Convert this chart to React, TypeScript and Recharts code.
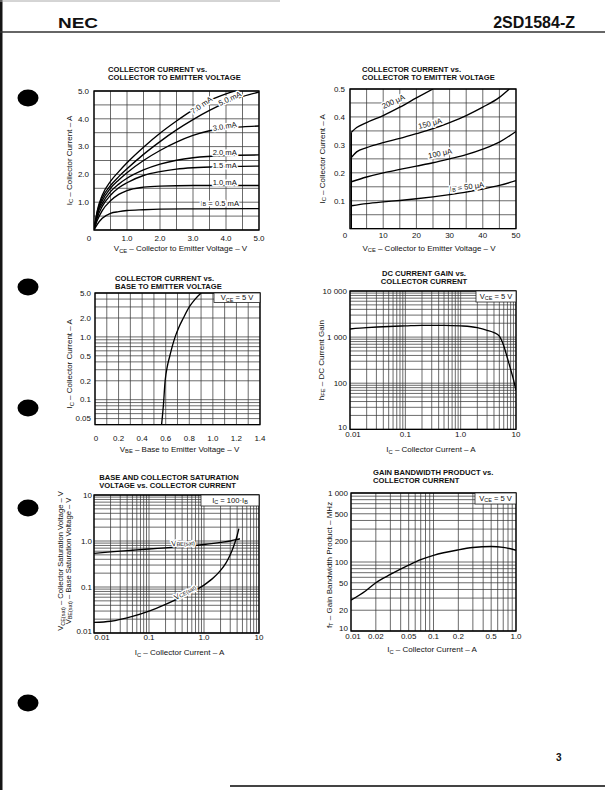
import React from 'react';
import { LineChart, Line, XAxis, YAxis, CartesianGrid, ReferenceDot, ReferenceArea } from 'recharts';

type Pt = [number, number];
type Tick = [number, string];

const FONT = '"Liberation Sans", Arial, Helvetica, sans-serif';
const INK = '#111';

// ---------------- Chart 1: IC vs VCE (0-5 V)
const c1XGrid = [0, 0.5, 1, 1.5, 2, 2.5, 3, 3.5, 4, 4.5, 5];
const c1YGrid = [0, 0.5, 1, 1.5, 2, 2.5, 3, 3.5, 4, 4.5, 5];
const c1XTicks: Tick[] = [[0, '0'], [1, '1.0'], [2, '2.0'], [3, '3.0'], [4, '4.0'], [5, '5.0']];
const c1YTicks: Tick[] = [[1, '1.0'], [2, '2.0'], [3, '3.0'], [4, '4.0'], [5, '5.0']];
const c1Ib0_5: Pt[] = [[0, 0], [0.1, 0.2], [0.25, 0.42], [0.5, 0.6], [0.75, 0.66], [1, 0.7], [1.5, 0.73], [2, 0.75], [3, 0.76], [5, 0.77]];
const c1Ib1_0: Pt[] = [[0, 0], [0.1, 0.35], [0.25, 0.7], [0.5, 1.05], [0.75, 1.28], [1, 1.42], [1.5, 1.54], [2, 1.58], [3, 1.6], [5, 1.6]];
const c1Ib1_5: Pt[] = [[0, 0], [0.1, 0.45], [0.25, 0.85], [0.5, 1.25], [0.75, 1.52], [1, 1.7], [1.5, 1.96], [2, 2.1], [2.5, 2.19], [3, 2.24], [4, 2.28], [5, 2.3]];
const c1Ib2_0: Pt[] = [[0, 0], [0.1, 0.55], [0.25, 0.95], [0.5, 1.38], [0.75, 1.65], [1, 1.86], [1.5, 2.16], [2, 2.37], [2.5, 2.51], [3, 2.6], [4, 2.68], [5, 2.7]];
const c1Ib3_0: Pt[] = [[0, 0], [0.1, 0.6], [0.25, 1.05], [0.5, 1.5], [0.75, 1.8], [1, 2.06], [1.5, 2.5], [2, 2.86], [2.5, 3.16], [3, 3.4], [3.5, 3.57], [4, 3.66], [4.5, 3.71], [5, 3.74]];
const c1Ib5_0: Pt[] = [[0, 0], [0.1, 0.65], [0.25, 1.15], [0.5, 1.6], [0.75, 1.92], [1, 2.2], [1.5, 2.72], [2, 3.18], [2.5, 3.6], [3, 3.97], [3.5, 4.3], [4, 4.58], [4.5, 4.8], [5, 4.96]];
const c1Ib7_0: Pt[] = [[0, 0], [0.1, 0.7], [0.25, 1.25], [0.5, 1.75], [0.75, 2.1], [1, 2.42], [1.5, 2.98], [2, 3.48], [2.5, 3.92], [3, 4.32], [3.5, 4.66], [4, 4.9], [4.26, 5.0]];

// ---------------- Chart 2: IC vs VCE (0-50 V)
const c2XGrid = [0, 5, 10, 15, 20, 25, 30, 35, 40, 45, 50];
const c2YGrid = [0, 0.05, 0.1, 0.15, 0.2, 0.25, 0.3, 0.35, 0.4, 0.45, 0.5];
const c2XTicks: Tick[] = [[0, '0'], [10, '10'], [20, '20'], [30, '30'], [40, '40'], [50, '50']];
const c2YTicks: Tick[] = [[0.1, '0.1'], [0.2, '0.2'], [0.3, '0.3'], [0.4, '0.4'], [0.5, '0.5']];
const c2Rise: Pt[] = [[0.4, 0], [0.4, 0.345]];
const c2Ib50: Pt[] = [[0.4, 0.082], [5, 0.09], [10, 0.096], [15, 0.101], [20, 0.107], [25, 0.114], [30, 0.122], [35, 0.131], [40, 0.142], [45, 0.155], [50, 0.172]];
const c2Ib100: Pt[] = [[0.4, 0.168], [5, 0.185], [10, 0.2], [15, 0.212], [20, 0.224], [25, 0.236], [30, 0.25], [35, 0.265], [40, 0.285], [45, 0.31], [50, 0.348]];
const c2Ib150: Pt[] = [[0.4, 0.255], [2, 0.275], [5, 0.29], [10, 0.308], [15, 0.323], [20, 0.34], [25, 0.358], [30, 0.38], [35, 0.405], [40, 0.435], [45, 0.47], [48, 0.5]];
const c2Ib200: Pt[] = [[0.4, 0.345], [2, 0.362], [5, 0.38], [10, 0.405], [15, 0.435], [20, 0.468], [25, 0.5]];

// ---------------- Chart 3: IC vs VBE
const c3XGrid = [0, 0.1, 0.2, 0.3, 0.4, 0.5, 0.6, 0.7, 0.8, 0.9, 1.0, 1.1, 1.2, 1.3, 1.4];
const c3YGrid = [0.04, 0.05, 0.06, 0.07, 0.08, 0.09, 0.1, 0.2, 0.3, 0.4, 0.5, 0.6, 0.7, 0.8, 0.9, 1, 2, 3, 4, 5];
const c3XTicks: Tick[] = [[0, '0'], [0.2, '0.2'], [0.4, '0.4'], [0.6, '0.6'], [0.8, '0.8'], [1.0, '1.0'], [1.2, '1.2'], [1.4, '1.4']];
const c3YTicks: Tick[] = [[0.05, '0.05'], [0.1, '0.1'], [0.2, '0.2'], [0.5, '0.5'], [1, '1.0'], [2, '2.0'], [5, '5.0']];
const c3Ic: Pt[] = [[0.565, 0.04], [0.58, 0.08], [0.595, 0.2], [0.615, 0.35], [0.635, 0.5], [0.655, 0.7], [0.68, 1.0], [0.71, 1.4], [0.75, 2.0], [0.8, 3.0], [0.85, 4.0], [0.9, 5.0]];

// ---------------- Chart 4: hFE vs IC
const c4XGrid = [0.01, 0.02, 0.03, 0.04, 0.05, 0.06, 0.07, 0.08, 0.09, 0.1, 0.2, 0.3, 0.4, 0.5, 0.6, 0.7, 0.8, 0.9, 1, 2, 3, 4, 5, 6, 7, 8, 9, 10];
const c4YGrid = [10, 20, 30, 40, 50, 60, 70, 80, 90, 100, 200, 300, 400, 500, 600, 700, 800, 900, 1000, 2000, 3000, 4000, 5000, 6000, 7000, 8000, 9000, 10000];
const c4XTicks: Tick[] = [[0.01, '0.01'], [0.1, '0.1'], [1, '1.0'], [10, '10']];
const c4YTicks: Tick[] = [[10, '10'], [100, '100'], [1000, '1 000'], [10000, '10 000']];
const c4Hfe: Pt[] = [[0.01, 1500], [0.02, 1600], [0.05, 1700], [0.1, 1750], [0.2, 1800], [0.5, 1800], [1, 1750], [2, 1600], [3, 1400], [4, 1250], [5, 1050], [6, 650], [7, 350], [8, 200], [9, 120], [10, 70]];

// ---------------- Chart 5: VCE(sat), VBE(sat) vs IC
const c5XGrid = [0.01, 0.02, 0.03, 0.04, 0.05, 0.06, 0.07, 0.08, 0.09, 0.1, 0.2, 0.3, 0.4, 0.5, 0.6, 0.7, 0.8, 0.9, 1, 2, 3, 4, 5, 6, 7, 8, 9, 10];
const c5YGrid = [0.01, 0.02, 0.03, 0.04, 0.05, 0.06, 0.07, 0.08, 0.09, 0.1, 0.2, 0.3, 0.4, 0.5, 0.6, 0.7, 0.8, 0.9, 1, 2, 3, 4, 5, 6, 7, 8, 9, 10];
const c5XTicks: Tick[] = [[0.01, '0.01'], [0.1, '0.1'], [1, '1.0'], [10, '10']];
const c5YTicks: Tick[] = [[0.01, '0.01'], [0.1, '0.1'], [1, '1.0'], [10, '10']];
const c5Vbe: Pt[] = [[0.01, 0.54], [0.02, 0.58], [0.05, 0.63], [0.1, 0.67], [0.2, 0.71], [0.5, 0.77], [1, 0.84], [2, 0.93], [3, 1.0], [4, 1.08], [4.5, 1.12]];
const c5Vce: Pt[] = [[0.01, 0.017], [0.02, 0.018], [0.05, 0.023], [0.1, 0.03], [0.2, 0.042], [0.5, 0.07], [1, 0.11], [1.5, 0.16], [2, 0.23], [2.5, 0.33], [3, 0.5], [3.5, 0.8], [4, 1.3], [4.3, 1.85]];

// ---------------- Chart 6: fT vs IC
const c6XGrid = [0.01, 0.02, 0.03, 0.04, 0.05, 0.06, 0.07, 0.08, 0.09, 0.1, 0.2, 0.3, 0.4, 0.5, 0.6, 0.7, 0.8, 0.9, 1];
const c6YGrid = [10, 20, 30, 40, 50, 60, 70, 80, 90, 100, 200, 300, 400, 500, 600, 700, 800, 900, 1000];
const c6XTicks: Tick[] = [[0.01, '0.01'], [0.02, '0.02'], [0.05, '0.05'], [0.1, '0.1'], [0.2, '0.2'], [0.5, '0.5'], [1, '1.0']];
const c6YTicks: Tick[] = [[10, '10'], [20, '20'], [50, '50'], [100, '100'], [200, '200'], [500, '500'], [1000, '1 000']];
const c6Ft: Pt[] = [[0.01, 28], [0.015, 38], [0.02, 50], [0.03, 66], [0.05, 90], [0.07, 108], [0.1, 125], [0.2, 150], [0.3, 162], [0.5, 168], [0.7, 163], [1, 148]];

// ---------------- helpers
type Part = string | [string];
const rich = (parts: Part[], shift = 1.6) => {
  let cur = 0;
  return parts.map((p, i) => {
    const isSub = Array.isArray(p);
    const target = isSub ? shift : 0;
    const dy = target - cur;
    cur = target;
    return (
      <tspan key={i} dy={dy !== 0 ? dy : undefined} fontSize={isSub ? '72%' : undefined}>
        {isSub ? (p as [string])[0] : (p as string)}
      </tspan>
    );
  });
};
const near = (a: number, b: number) => Math.abs(a - b) <= 1e-6 * Math.max(Math.abs(a), Math.abs(b), 1e-9);
const toObj = (pts: Pt[]) => pts.map(([x, y]) => ({ x, y }));

interface Annot { x: number; y: number; text: Part[]; rot?: number; }
interface Cfg {
  L: number; T: number; W: number; H: number;
  xDom: [number, number]; yDom: [number, number];
  xLog?: boolean; yLog?: boolean;
  xGrid: number[]; yGrid: number[];
  xTicks: Tick[]; yTicks: Tick[];
  xTickDy: number; yTickGap: number; firstXDx: number; bottomYDy?: number;
  series: { pts: Pt[]; curve?: 'monotone' | 'linear' }[];
  xTitle: Part[]; xTitleDx: number; xTitleDy: number;
  yTitles: { parts: Part[]; dx: number }[]; yTitleDy: number; yTitleSize?: number;
  annots: Annot[];
  box?: { parts: Part[]; w: number; h: number };
}

const YW = 60, MT = 12, MR = 12, XH = 40;

function Panel({ cfg }: { cfg: Cfg }) {
  const width = YW + cfg.W + MR;
  const height = MT + cfg.H + XH;
  const plotBottom = MT + cfg.H;
  const plotCx = YW + cfg.W / 2;
  const plotCy = MT + cfg.H / 2;

  const xTick = (p: any) => {
    const v = p.payload.value;
    const idx = cfg.xTicks.findIndex((t) => near(t[0], v));
    if (idx < 0) return <g />;
    const dx = idx === 0 ? cfg.firstXDx : 0;
    return (
      <text x={p.x + dx} y={plotBottom + cfg.xTickDy} textAnchor="middle" fontSize={8} fill={INK} fontFamily={FONT}>
        {cfg.xTicks[idx][1]}
      </text>
    );
  };
  const yTick = (p: any) => {
    const v = p.payload.value;
    const idx = cfg.yTicks.findIndex((t) => near(t[0], v));
    if (idx < 0) return <g />;
    const dy = near(v, cfg.yDom[0]) ? cfg.bottomYDy ?? 0 : 0;
    return (
      <text x={YW - cfg.yTickGap} y={p.y + 2.8 + dy} textAnchor="end" fontSize={8} fill={INK} fontFamily={FONT}>
        {cfg.yTicks[idx][1]}
      </text>
    );
  };
  const xTitle = () => (
    <text x={plotCx + cfg.xTitleDx} y={plotBottom + cfg.xTitleDy} textAnchor="middle" fontSize={8} fill={INK} fontFamily={FONT}>
      {rich(cfg.xTitle)}
    </text>
  );
  const yTitle = () => (
    <g>
      {cfg.yTitles.map((t, i) => {
        const x = YW + t.dx;
        const y = plotCy + cfg.yTitleDy;
        return (
          <text key={i} x={x} y={y} transform={`rotate(-90 ${x} ${y})`} textAnchor="middle" fontSize={cfg.yTitleSize ?? 8} fill={INK} fontFamily={FONT}>
            {rich(t.parts, 1.3)}
          </text>
        );
      })}
    </g>
  );

  return (
    <div style={{ position: 'absolute', left: cfg.L - YW, top: cfg.T - MT }}>
      <LineChart width={width} height={height} margin={{ top: MT, right: MR, left: 0, bottom: 0 }}>
        <CartesianGrid stroke="#3a3a3a" strokeWidth={0.75} />
        <XAxis
          type="number" dataKey="x" domain={cfg.xDom} scale={cfg.xLog ? 'log' : 'linear'}
          ticks={cfg.xGrid} interval={0} tick={xTick} tickLine={false} axisLine={false}
          height={XH} allowDataOverflow label={{ content: xTitle }}
        />
        <YAxis
          type="number" dataKey="y" domain={cfg.yDom} scale={cfg.yLog ? 'log' : 'linear'}
          ticks={cfg.yGrid} interval={0} tick={yTick} tickLine={false} axisLine={false}
          width={YW} allowDataOverflow label={{ content: yTitle }}
        />
        <ReferenceArea x1={cfg.xDom[0]} x2={cfg.xDom[1]} y1={cfg.yDom[0]} y2={cfg.yDom[1]} fill="none" fillOpacity={0} stroke="#000" strokeWidth={1.3} />
        {cfg.series.map((s, i) => (
          <Line
            key={i} data={toObj(s.pts)} dataKey="y" type={s.curve ?? 'monotone'}
            stroke="#000" strokeWidth={1.35} dot={false} activeDot={false} isAnimationActive={false}
          />
        ))}
        {cfg.annots.map((a, i) => (
          <ReferenceDot
            key={'a' + i} x={a.x} y={a.y} r={0} ifOverflow="visible"
            shape={(p: any) => (
              <text
                x={p.cx} y={p.cy} transform={`rotate(${a.rot ?? 0} ${p.cx} ${p.cy})`}
                textAnchor="middle" dominantBaseline="central" fontSize={7.6} fontFamily={FONT}
                fill={INK} stroke="#fff" strokeWidth={3} paintOrder="stroke" strokeLinejoin="round"
              >
                {rich(a.text, 1.4)}
              </text>
            )}
          />
        ))}
        {cfg.box && (
          <ReferenceDot
            x={cfg.xDom[1]} y={cfg.yDom[1]} r={0} ifOverflow="visible"
            shape={(p: any) => (
              <g>
                <rect x={p.cx - cfg.box!.w} y={p.cy} width={cfg.box!.w} height={cfg.box!.h} fill="#fff" stroke="#222" strokeWidth={0.8} />
                <text x={p.cx - cfg.box!.w / 2} y={p.cy + cfg.box!.h / 2 + 2.6} textAnchor="middle" fontSize={7.6} fontFamily={FONT} fill={INK}>
                  {rich(cfg.box!.parts, 1.3)}
                </text>
              </g>
            )}
          />
        )}
      </LineChart>
    </div>
  );
}

const cfgs: Cfg[] = [
  {
    L: 94.3, T: 91, W: 165, H: 139, xDom: [0, 5], yDom: [0, 5],
    xGrid: c1XGrid, yGrid: c1YGrid, xTicks: c1XTicks, yTicks: c1YTicks,
    xTickDy: 10.5, yTickGap: 5, firstXDx: -5,
    series: [c1Ib0_5, c1Ib1_0, c1Ib1_5, c1Ib2_0, c1Ib3_0, c1Ib5_0, c1Ib7_0].map((pts) => ({ pts })),
    xTitle: ['V', ['CE'], ' – Collector to Emitter Voltage – V'], xTitleDx: 4, xTitleDy: 21,
    yTitles: [{ parts: ['I', ['C'], ' – Collector Current – A'], dx: -21.8 }], yTitleDy: 0,
    annots: [
      { x: 3.25, y: 4.5, text: ['7.0 mA'], rot: -35 },
      { x: 4.11, y: 4.74, text: ['5.0 mA'], rot: -25 },
      { x: 3.96, y: 3.74, text: ['3.0 mA'], rot: -10 },
      { x: 3.96, y: 2.8, text: ['2.0 mA'] },
      { x: 3.96, y: 2.34, text: ['1.5 mA'] },
      { x: 3.96, y: 1.74, text: ['1.0 mA'] },
      { x: 3.81, y: 0.98, text: ['I', ['B'], ' = 0.5 mA'] },
    ],
  },
  {
    L: 350, T: 89.3, W: 166, H: 139.7, xDom: [0, 50], yDom: [0, 0.5],
    xGrid: c2XGrid, yGrid: c2YGrid, xTicks: c2XTicks, yTicks: c2YTicks,
    xTickDy: 9, yTickGap: 5, firstXDx: -5,
    series: [
      { pts: c2Rise, curve: 'linear' },
      { pts: c2Ib50 }, { pts: c2Ib100 }, { pts: c2Ib150 }, { pts: c2Ib200 },
    ],
    xTitle: ['V', ['CE'], ' – Collector to Emitter Voltage – V'], xTitleDx: -4, xTitleDy: 22,
    yTitles: [{ parts: ['I', ['C'], ' – Collector Current – A'], dx: -25 }], yTitleDy: 0,
    annots: [
      { x: 13, y: 0.456, text: ['200 μA'], rot: -25 },
      { x: 24.1, y: 0.378, text: ['150 μA'], rot: -15 },
      { x: 27.1, y: 0.271, text: ['100 μA'], rot: -12 },
      { x: 35.2, y: 0.151, text: ['I', ['B'], ' = 50 μA'], rot: -8 },
    ],
  },
  {
    L: 95, T: 293.3, W: 165, H: 131.7, xDom: [0, 1.4], yDom: [0.04, 5], yLog: true,
    xGrid: c3XGrid, yGrid: c3YGrid, xTicks: c3XTicks, yTicks: c3YTicks,
    xTickDy: 16, yTickGap: 4, firstXDx: 1,
    series: [{ pts: c3Ic }],
    xTitle: ['V', ['BE'], ' – Base to Emitter Voltage – V'], xTitleDx: 2, xTitleDy: 27,
    yTitles: [{ parts: ['I', ['C'], ' – Collector Current – A'], dx: -22.7 }], yTitleDy: 5,
    annots: [],
    box: { parts: ['V', ['CE'], ' = 5 V'], w: 46, h: 9.5 },
  },
  {
    L: 350, T: 290.7, W: 166, H: 138.3, xDom: [0.01, 10], yDom: [10, 10000], xLog: true, yLog: true,
    xGrid: c4XGrid, yGrid: c4YGrid, xTicks: c4XTicks, yTicks: c4YTicks,
    xTickDy: 8, yTickGap: 3, firstXDx: 3, bottomYDy: -2.5,
    series: [{ pts: c4Hfe }],
    xTitle: ['I', ['C'], ' – Collector Current – A'], xTitleDx: -2, xTitleDy: 22.7,
    yTitles: [{ parts: ['h', ['FE'], ' – DC Current Gain'], dx: -26 }], yTitleDy: 0,
    annots: [],
    box: { parts: ['V', ['CE'], ' = 5 V'], w: 40, h: 11 },
  },
  {
    L: 94.3, T: 495, W: 165, H: 138, xDom: [0.01, 10], yDom: [0.01, 10], xLog: true, yLog: true,
    xGrid: c5XGrid, yGrid: c5YGrid, xTicks: c5XTicks, yTicks: c5YTicks,
    xTickDy: 7, yTickGap: 2, firstXDx: 8, bottomYDy: -1.5,
    series: [{ pts: c5Vbe }, { pts: c5Vce }],
    xTitle: ['I', ['C'], ' – Collector Current – A'], xTitleDx: 3, xTitleDy: 22,
    yTitles: [
      { parts: ['V', ['CE(sat)'], ' – Collector Saturation Voltage – V'], dx: -30.6 },
      { parts: ['V', ['BE(sat)'], ' – Base Saturation Voltage – V'], dx: -23.4 },
    ],
    yTitleDy: -3, yTitleSize: 7.6,
    annots: [
      { x: 0.415, y: 0.93, text: ['V', ['BE(sat)']], rot: -4 },
      { x: 0.446, y: 0.079, text: ['V', ['CE(sat)']], rot: -30 },
    ],
    box: { parts: ['I', ['C'], ' = 100·I', ['B']], w: 58, h: 11 },
  },
  {
    L: 351, T: 492.7, W: 165, H: 138, xDom: [0.01, 1], yDom: [10, 1000], xLog: true, yLog: true,
    xGrid: c6XGrid, yGrid: c6YGrid, xTicks: c6XTicks, yTicks: c6YTicks,
    xTickDy: 7.8, yTickGap: 3, firstXDx: 2, bottomYDy: -3,
    series: [{ pts: c6Ft }],
    xTitle: ['I', ['C'], ' – Collector Current – A'], xTitleDx: -1.5, xTitleDy: 21,
    yTitles: [{ parts: ['f', ['T'], ' – Gain Bandwidth Product – MHz'], dx: -19.3 }], yTitleDy: 3,
    annots: [],
    box: { parts: ['V', ['CE'], ' = 5 V'], w: 41, h: 11 },
  },
];

const titles: { x: number; y1: number; y2: number; l1: string; l2: string; anchor?: 'start' | 'middle' }[] = [
  { x: 108, y1: 72.3, y2: 80.3, l1: 'COLLECTOR CURRENT  vs.', l2: 'COLLECTOR TO EMITTER VOLTAGE' },
  { x: 362, y1: 72.3, y2: 80.3, l1: 'COLLECTOR CURRENT  vs.', l2: 'COLLECTOR TO EMITTER VOLTAGE' },
  { x: 115, y1: 281, y2: 289, l1: 'COLLECTOR CURRENT  vs.', l2: 'BASE TO EMITTER VOLTAGE' },
  { x: 424, y1: 276, y2: 284, l1: 'DC CURRENT GAIN vs.', l2: 'COLLECTOR CURRENT', anchor: 'middle' },
  { x: 99.3, y1: 480, y2: 488, l1: 'BASE AND COLLECTOR SATURATION', l2: 'VOLTAGE vs. COLLECTOR CURRENT' },
  { x: 373, y1: 474.5, y2: 482.5, l1: 'GAIN BANDWIDTH PRODUCT vs.', l2: 'COLLECTOR CURRENT' },
];

const holesY = [98, 287, 408, 508, 703];

export default function App() {
  return (
    <div style={{ position: 'absolute', left: 0, top: 0, width: 605, height: 790, background: '#fff', overflow: 'hidden', fontFamily: FONT }}>
      <svg width={605} height={790} style={{ position: 'absolute', left: 0, top: 0 }}>
        <rect x={0} y={0} width={2.5} height={790} fill="#151515" />
        <line x1={0} y1={1} x2={280} y2={1} stroke="#aaa" strokeWidth={1} />
        <text x={58} y={28} fontSize={14} fontWeight="bold" fill={INK} textLength={40} lengthAdjust="spacingAndGlyphs">NEC</text>
        <text x={575} y={28} fontSize={16} fontWeight="bold" fill={INK} textAnchor="end">2SD1584-Z</text>
        <line x1={0} y1={32} x2={605} y2={32} stroke="#333" strokeWidth={1.4} />
        {holesY.map((y) => (
          <ellipse key={y} cx={28} cy={y} rx={10.5} ry={8.5} fill="#000" />
        ))}
        {titles.map((t, i) => (
          <g key={i} fontSize={7.6} fontWeight="bold" fill={INK} textAnchor={t.anchor ?? 'start'}>
            <text x={t.x} y={t.y1}>{t.l1}</text>
            <text x={t.x} y={t.y2}>{t.l2}</text>
          </g>
        ))}
        <text x={556} y={761} fontSize={10} fontWeight="bold" fill={INK}>3</text>
        <line x1={230} y1={786} x2={605} y2={786} stroke="#444" strokeWidth={2} />
      </svg>
      {cfgs.map((c, i) => (
        <Panel key={i} cfg={c} />
      ))}
    </div>
  );
}
